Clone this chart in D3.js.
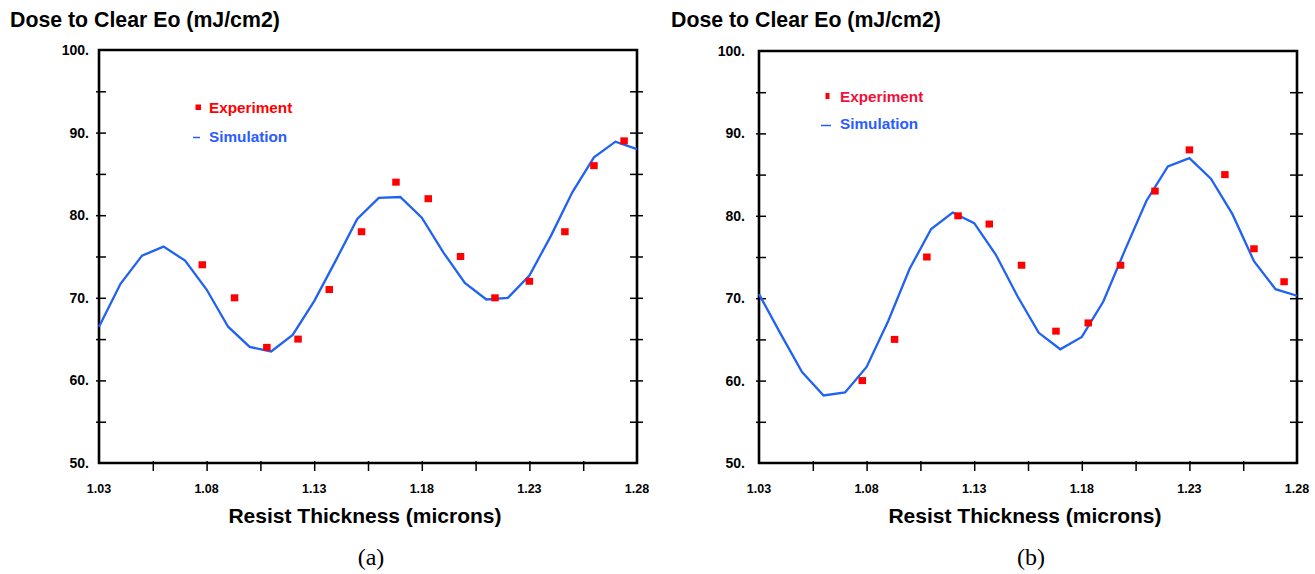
<!DOCTYPE html>
<html>
<head>
<meta charset="utf-8">
<script src="https://cdn.jsdelivr.net/npm/d3@7"></script>
<style>
  html, body { margin: 0; padding: 0; background: #fff; }
  svg { display: block; }
</style>
</head>
<body>
<div id="chart"></div>
<script>
// resist thickness (microns) of the simulation points
const simX = [1.03, 1.04, 1.05, 1.06, 1.07, 1.08, 1.09, 1.10, 1.11, 1.12, 1.13, 1.14, 1.15,
              1.16, 1.17, 1.18, 1.19, 1.20, 1.21, 1.22, 1.23, 1.24, 1.25, 1.26, 1.27, 1.28]
// resist thickness of the measured points
const expX = [1.078, 1.093, 1.108, 1.1225, 1.137, 1.152, 1.168, 1.183, 1.198, 1.214, 1.230, 1.2465, 1.260, 1.274]

// panel (a)
const simA = [66.5, 71.7, 75.1, 76.2, 74.5, 71.0, 66.5, 64.05, 63.5, 65.5, 69.6, 74.5, 79.55,
              82.1, 82.2, 79.7, 75.5, 71.8, 69.8, 70.0, 72.7, 77.5, 82.8, 87.0, 88.9, 88.0]
const expA = [74, 70, 64, 65, 71, 78, 84, 82, 75, 70, 72, 78, 86, 89]

// panel (b)
const simB = [70.5, 65.7, 61.05, 58.2, 58.56, 61.66, 67.2, 73.57, 78.4, 80.4, 79.1, 75.3, 70.3,
              65.8, 63.8, 65.3, 69.6, 75.8, 81.8, 86.0, 87.0, 84.5, 80.2, 74.5, 71.1, 70.3]
const expB = [60, 65, 75, 80, 79, 74, 66, 67, 74, 83, 88, 85, 76, 72]

const yLabelValues = [50, 60, 70, 80, 90, 100]
const yLabels = ["50.", "60.", "70.", "80.", "90.", "100."]
const yMinorTicks = [55, 60, 65, 70, 75, 80, 85, 90, 95]
const xLabelValues = [1.03, 1.08, 1.13, 1.18, 1.23, 1.28]
const xLabels = ["1.03", "1.08", "1.13", "1.18", "1.23", "1.28"]
const xMinorTicks = [1.055, 1.08, 1.105, 1.13, 1.155, 1.18, 1.205, 1.23, 1.255]

const yTitle = "Dose to Clear Eo (mJ/cm2)"
const xTitle = "Resist Thickness (microns)"
const legendNames = ["Experiment", "Simulation"]

const W = 1315, H = 574
const blue = "#2062f2"
const sans = "'Liberation Sans', Arial, sans-serif"
const serif = "'Liberation Serif', 'Times New Roman', serif"

const svg = d3.select("#chart").append("svg")
    .attr("width", W).attr("height", H)
    .attr("viewBox", "0 0 " + W + " " + H)
    .style("font-family", sans)

svg.append("rect").attr("width", W).attr("height", H).attr("fill", "#fff")

function drawPanel(opt) {
    const x = d3.scaleLinear().domain([1.03, 1.28]).range([opt.x0, opt.x1])
    const y = d3.scaleLinear().domain([50, 100]).range([463, opt.yTop])
    const g = svg.append("g")

    // title above the y axis
    g.append("text")
        .attr("x", opt.titleX).attr("y", 27)
        .attr("font-size", 21.3).attr("font-weight", "bold")
        .text(yTitle)

    // ticks: left (inside), right (crossing), bottom (mostly outside)
    g.append("g")
        .attr("transform", "translate(" + (opt.x0 - 3) + ",0)")
        .call(d3.axisRight(y).tickValues(yMinorTicks).tickSize(10).tickFormat(""))
        .call((a) => a.select(".domain").remove())
    g.append("g")
        .attr("transform", "translate(" + (opt.x1 + 6) + ",0)")
        .call(d3.axisLeft(y).tickValues(yMinorTicks).tickSize(13).tickFormat(""))
        .call((a) => a.select(".domain").remove())
    g.append("g")
        .attr("transform", "translate(0," + (463 - 2) + ")")
        .call(d3.axisBottom(x).tickValues(xMinorTicks).tickSize(10).tickFormat(""))
        .call((a) => a.select(".domain").remove())
    g.selectAll(".tick line").attr("stroke", "#000").attr("stroke-width", 1.5)

    // frame
    g.append("path")
        .attr("d", "M" + opt.x0 + "," + y(50) + "V" + y(100) + "H" + opt.x1 + "V" + y(50) + "Z")
        .attr("fill", "none").attr("stroke", "#000").attr("stroke-width", 2.6)

    // tick labels
    g.selectAll(".ylab").data(yLabelValues).enter().append("text")
        .attr("x", opt.x0 - opt.yLabPad)
        .attr("y", (d) => y(d) + 5)
        .attr("text-anchor", "end")
        .attr("font-size", 14).attr("font-weight", "bold")
        .text((d, i) => yLabels[i])
    g.selectAll(".xlab").data(xLabelValues).enter().append("text")
        .attr("x", (d) => x(d))
        .attr("y", 493)
        .attr("text-anchor", "middle")
        .attr("font-size", 12.5).attr("font-weight", "bold")
        .text((d, i) => xLabels[i])

    // x title
    g.append("text")
        .attr("x", (opt.x0 + opt.x1) / 2 - 3).attr("y", 523)
        .attr("text-anchor", "middle")
        .attr("font-size", 21).attr("font-weight", "bold")
        .text(xTitle)

    // panel letter
    g.append("text")
        .attr("x", (opt.x0 + opt.x1) / 2 + 3).attr("y", 565)
        .attr("text-anchor", "middle")
        .style("font-family", serif)
        .attr("font-size", 24)
        .text(opt.letter)

    // simulation line
    const line = d3.line().x((d) => x(d[0])).y((d) => y(d[1]))
    g.append("path")
        .datum(simX.map((v, i) => [v, opt.sim[i]]))
        .attr("d", line)
        .attr("fill", "none").attr("stroke", blue).attr("stroke-width", 2.3)
        .attr("stroke-linejoin", "miter")

    // experiment squares
    g.selectAll(".exp").data(expX.map((v, i) => [v, opt.exp[i]])).enter().append("rect")
        .attr("x", (d) => x(d[0]) - 3.75)
        .attr("y", (d) => y(d[1]) - 3.5)
        .attr("width", 7.5).attr("height", 7)
        .attr("fill", "#ff0000")

    // legend
    const lg = opt.legend
    g.append("rect")
        .attr("x", lg.markX).attr("y", lg.markY)
        .attr("width", lg.markW).attr("height", lg.markH)
        .attr("fill", "#ff0000")
    g.append("text")
        .attr("x", lg.textX).attr("y", lg.y1)
        .attr("font-size", 15.3).attr("font-weight", "bold")
        .attr("fill", lg.expColor)
        .text(legendNames[0])
    g.append("line")
        .attr("x1", lg.dashX1).attr("x2", lg.dashX2)
        .attr("y1", lg.dashY).attr("y2", lg.dashY)
        .attr("stroke", blue).attr("stroke-width", 1.5)
    g.append("text")
        .attr("x", lg.textX).attr("y", lg.y2)
        .attr("font-size", 15.3).attr("font-weight", "bold")
        .attr("fill", "#2a5cff")
        .text(legendNames[1])
}

drawPanel({
    x0: 99, x1: 637, yTop: 50, titleX: 10, yLabPad: 10, letter: "(a)",
    sim: simA, exp: expA,
    legend: {
        markX: 195.5, markY: 104.5, markW: 5.5, markH: 5.5,
        textX: 209, y1: 113, y2: 142,
        dashX1: 193, dashX2: 200, dashY: 137.5, expColor: "#ff0000",
    },
})

drawPanel({
    x0: 759, x1: 1297, yTop: 51, titleX: 671, yLabPad: 14, letter: "(b)",
    sim: simB, exp: expB,
    legend: {
        markX: 825.5, markY: 93, markW: 4, markH: 6,
        textX: 840, y1: 102, y2: 129,
        dashX1: 821, dashX2: 831, dashY: 125.5, expColor: "#f0103a",
    },
})
</script>
</body>
</html>
